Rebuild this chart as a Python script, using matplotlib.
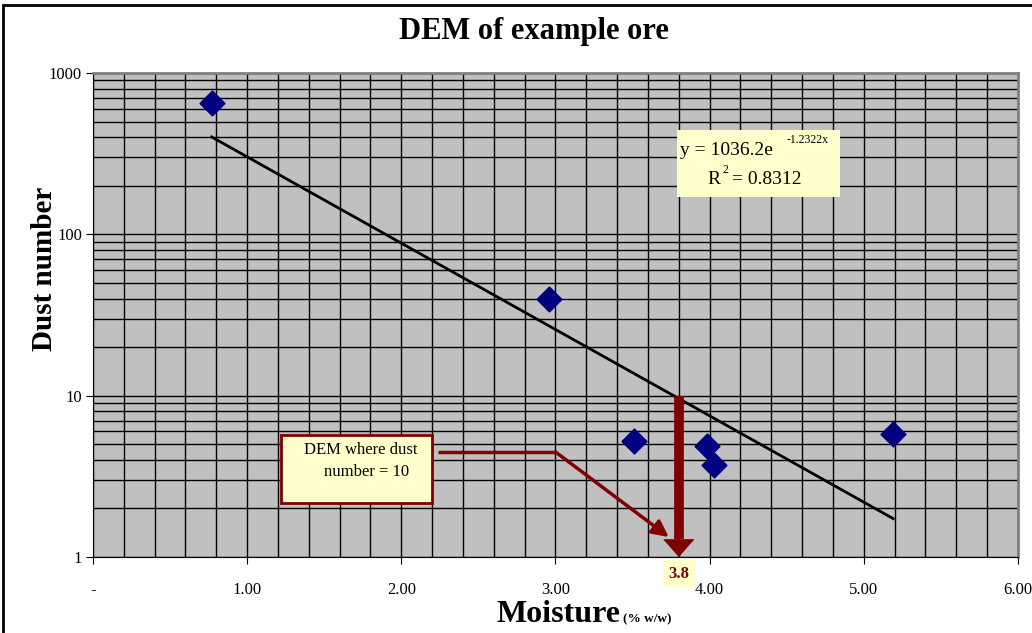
import numpy as np
import matplotlib
matplotlib.use("Agg")
import matplotlib.pyplot as plt
from matplotlib.patches import Rectangle
from matplotlib.ticker import FixedLocator, LogLocator, NullFormatter

plt.rcParams['font.family'] = ['Liberation Serif', 'DejaVu Serif']

# data
moisture = [0.77, 2.96, 3.51, 3.98, 4.03, 5.19]
dust_number = [650, 40, 5.2, 4.9, 3.7, 5.8]

# exponential trendline as printed on the chart
fit_a = 1036.2
fit_b = -1.2322
fit_r2 = 0.8312

dem_x = 3.8
dem_dust = 10

x_ticks = [0, 1, 2, 3, 4, 5, 6]
x_tick_labels = ['-', '1.00', '2.00', '3.00', '4.00', '5.00', '6.00']
y_ticks = [1, 10, 100, 1000]
y_tick_labels = ['1', '10', '100', '1000']

dark_red = '#800000'
pale_yellow = '#FFFFCC'

fig = plt.figure(figsize=(10.32, 6.33), dpi=100)
ax = fig.add_axes([0.0901, 0.1201, 0.8963, 0.7646])
ax.set_facecolor('#C0C0C0')
ax.set_yscale('log')
ax.set_xlim(0, 6)
ax.set_ylim(1, 1000)

# grid: every 0.2 on x, log minors on y
ax.xaxis.set_minor_locator(FixedLocator(np.arange(0, 6.01, 0.2)))
ax.yaxis.set_minor_locator(LogLocator(base=10, subs=np.arange(2, 10)))
ax.yaxis.set_minor_formatter(NullFormatter())
ax.grid(True, which='both', color='black', linewidth=1.0)
ax.set_axisbelow(True)

ax.set_xticks(x_ticks)
ax.set_xticklabels(x_tick_labels, fontsize=12)
ax.set_yticks(y_ticks)
ax.set_yticklabels(y_tick_labels, fontsize=12)
ax.tick_params(axis='x', which='major', length=5, pad=13, direction='out')
ax.tick_params(axis='y', which='major', length=5, pad=3, direction='out')
ax.tick_params(which='minor', length=0)

for side in ['top', 'right']:
    ax.spines[side].set_color('#808080')
    ax.spines[side].set_linewidth(2)
ax.spines['left'].set_color('black')
ax.spines['bottom'].set_color('black')

# trendline
xs = np.linspace(min(moisture), max(moisture), 100)
ax.plot(xs, fit_a * np.exp(fit_b * xs), color='black', linewidth=2, zorder=3)

# points
ax.scatter(moisture, dust_number, marker='D', s=160, color='#000080', zorder=4)

# thick arrow down at DEM: shaft + head
ax.plot([dem_x, dem_x], [dem_dust, 1.3], color=dark_red, linewidth=7,
        solid_capstyle='butt', zorder=5)
ax.annotate('', xy=(dem_x, 1.0), xytext=(dem_x, 1.27),
            arrowprops=dict(arrowstyle='-|>,head_width=1.08,head_length=1.22',
                            color=dark_red, lw=0.5, mutation_scale=10,
                            shrinkA=0, shrinkB=0), zorder=5)

# callout connector
ax.plot([2.24, 3.0], [4.48, 4.48], color=dark_red, linewidth=2.5, zorder=5,
        solid_capstyle='butt')
ax.annotate('', xy=(3.735, 1.33), xytext=(3.0, 4.48),
            arrowprops=dict(arrowstyle='-|>,head_width=0.35,head_length=0.7',
                            color=dark_red, lw=2.5, mutation_scale=14,
                            shrinkA=0, shrinkB=0), zorder=5)

# callout box
ax.add_patch(Rectangle((0.203, 0.1116), 0.163, 0.1404, transform=ax.transAxes,
                       facecolor=pale_yellow, edgecolor=dark_red, linewidth=2,
                       zorder=6))
ax.text(0.290, 0.220, 'DEM where dust', transform=ax.transAxes, fontsize=12,
        ha='center', va='center', zorder=7)
ax.text(0.296, 0.176, 'number = 10', transform=ax.transAxes, fontsize=12,
        ha='center', va='center', zorder=7)

# equation box
ax.add_patch(Rectangle((0.631, 0.744), 0.177, 0.139, transform=ax.transAxes,
                       facecolor=pale_yellow, edgecolor='none', zorder=6))
ax.text(0.635, 0.840, 'y = 1036.2e', transform=ax.transAxes, fontsize=14,
        ha='left', va='center', zorder=7)
ax.text(0.772, 0.862, '%.4fx' % fit_b, transform=ax.transAxes, fontsize=8.5,
        ha='center', va='center', zorder=7)
ax.text(0.664, 0.780, 'R', transform=ax.transAxes, fontsize=14,
        ha='left', va='center', zorder=7)
ax.text(0.681, 0.800, '2', transform=ax.transAxes, fontsize=8.5,
        ha='left', va='center', zorder=7)
ax.text(0.691, 0.780, '= %.4f' % fit_r2, transform=ax.transAxes, fontsize=14,
        ha='left', va='center', zorder=7)

# 3.8 label under axis
ax.annotate(str(dem_x), xy=(dem_x, 1), xycoords='data', xytext=(0, -12),
            textcoords='offset points', ha='center', va='center',
            fontsize=12, fontweight='bold', color=dark_red,
            bbox=dict(boxstyle='square,pad=0.35', facecolor=pale_yellow,
                      edgecolor='none'), annotation_clip=False)

# titles
fig.text(0.517, 0.951, 'DEM of example ore', fontsize=22, fontweight='bold',
         ha='center', va='center')
fig.text(0.043, 0.575, 'Dust number', fontsize=21, fontweight='bold',
         ha='center', va='center', rotation=90)
fig.text(0.601, 0.030, 'Moisture', fontsize=23, fontweight='bold',
         ha='right', va='center')
fig.text(0.604, 0.022, '(% w/w)', fontsize=9.5, fontweight='bold',
         ha='left', va='center')

# chart border
fig.add_artist(Rectangle((0.003, -0.1), 1.1, 1.092, transform=fig.transFigure,
                         fill=False, edgecolor='black', linewidth=2))

fig.savefig('out.png', dpi=100)
